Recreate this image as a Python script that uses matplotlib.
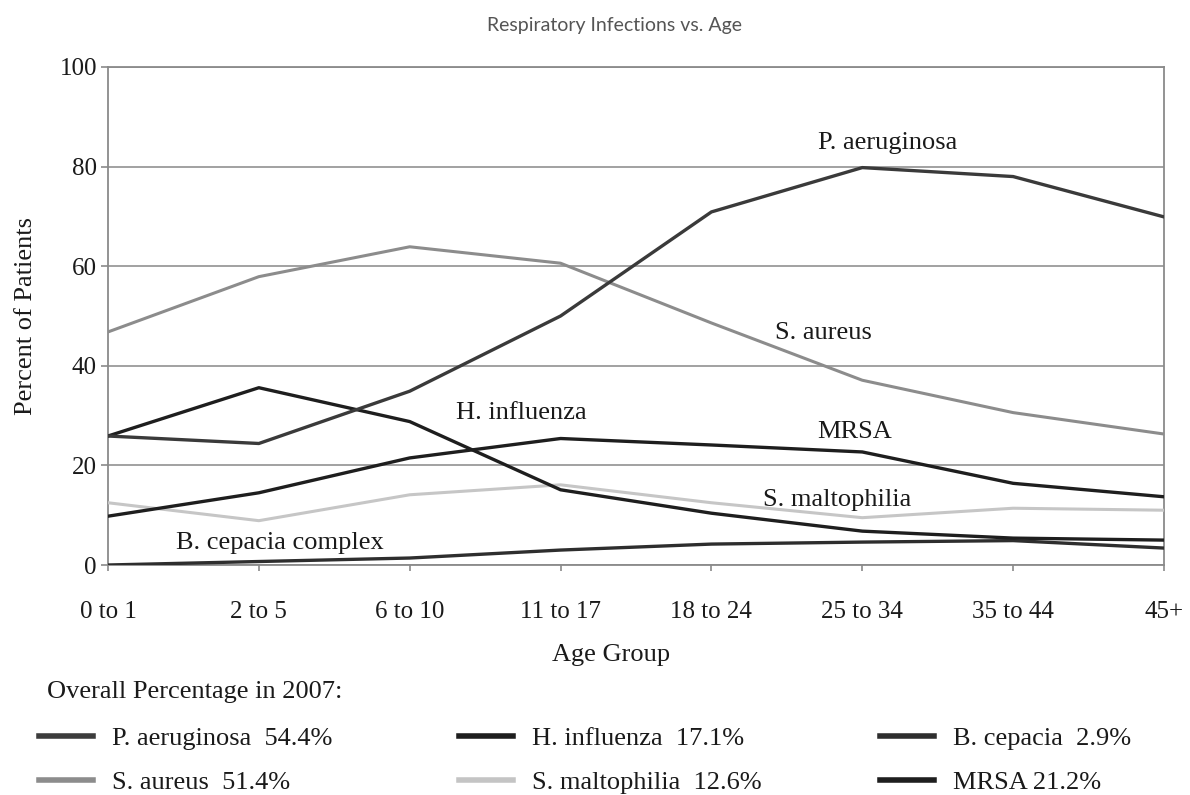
import matplotlib.pyplot as plt

# data
age_groups = ['0 to 1', '2 to 5', '6 to 10', '11 to 17', '18 to 24',
              '25 to 34', '35 to 44', '45+']
p_aeruginosa = [25.9, 24.4, 34.9, 50.0, 70.9, 79.8, 78.0, 69.9]
s_aureus = [46.8, 57.9, 63.9, 60.6, 48.6, 37.1, 30.6, 26.3]
h_influenza = [25.9, 35.6, 28.8, 15.1, 10.4, 6.8, 5.4, 5.0]
mrsa = [9.8, 14.5, 21.5, 25.4, 24.1, 22.7, 16.4, 13.7]
s_maltophilia = [12.5, 8.9, 14.1, 16.1, 12.5, 9.5, 11.4, 11.0]
b_cepacia = [0.0, 0.7, 1.4, 3.0, 4.2, 4.6, 4.9, 3.4]

overall_2007 = {'P. aeruginosa': 54.4, 'S. aureus': 51.4, 'H. influenza': 17.1,
                'S. maltophilia': 12.6, 'B. cepacia': 2.9, 'MRSA': 21.2}

SERIF = 'Liberation Serif'

fig = plt.figure(figsize=(11.9, 7.95), dpi=100)
ax = fig.add_axes([108 / 1190, 1 - 565 / 795, (1164 - 108) / 1190, (565 - 67) / 795])

x = range(len(age_groups))
ax.plot(x, s_maltophilia, color='#c6c6c6', lw=2.2, zorder=3)
ax.plot(x, s_aureus, color='#8c8c8c', lw=2.2, zorder=3)
ax.plot(x, b_cepacia, color='#2e2e2e', lw=2.4, zorder=4)
ax.plot(x, mrsa, color='#1e1e1e', lw=2.4, zorder=4)
ax.plot(x, h_influenza, color='#1e1e1e', lw=2.4, zorder=4)
ax.plot(x, p_aeruginosa, color='#3a3a3a', lw=2.4, zorder=4)

ax.set_xlim(0, len(age_groups) - 1)
ax.set_ylim(0, 100)
ax.set_yticks([0, 20, 40, 60, 80, 100])
ax.set_xticks(list(x))
ax.set_xticklabels(age_groups)
ax.yaxis.grid(True, color='#9a9a9a', lw=1.3)
ax.set_axisbelow(True)
for s in ax.spines.values():
    s.set_color('#8a8a8a')
    s.set_linewidth(1.3)
ax.tick_params(axis='x', length=4, width=1.2, color='#8a8a8a', pad=22,
               labelsize=18, labelcolor='#1a1a1a')
ax.tick_params(axis='y', length=5, width=1.2, color='#8a8a8a', pad=3,
               labelsize=18, labelcolor='#1a1a1a')
for lab in ax.get_xticklabels() + ax.get_yticklabels():
    lab.set_family(SERIF)

ax.set_ylabel('Percent of Patients', family=SERIF, fontsize=19, color='#1a1a1a', labelpad=16)
fig.text(611 / 1190, 1 - 655 / 795, 'Age Group', family=SERIF, fontsize=19,
         color='#1a1a1a', ha='center', va='center')
fig.text(614 / 1190, 1 - 25 / 795, 'Respiratory Infections vs. Age', family='Lato',
         fontsize=14, color='#555555', ha='center', va='center')

# series labels inside the plot
txt = dict(family=SERIF, fontsize=19, color='#1a1a1a', ha='center', va='center')
ax.text(5.17, 84.7, 'P. aeruginosa', **txt)
ax.text(4.74, 46.6, 'S. aureus', **txt)
ax.text(2.74, 30.5, 'H. influenza', **txt)
ax.text(4.95, 26.7, 'MRSA', **txt)
ax.text(4.83, 13.0, 'S. maltophilia', **txt)
ax.text(1.14, 4.4, 'B. cepacia complex', **txt)

# legend: three columns placed by hand
fig.text(47 / 1190, 1 - 692 / 795, 'Overall Percentage in 2007:', family=SERIF,
         fontsize=19, color='#1a1a1a', ha='left', va='center')
columns = [
    (39, [('P. aeruginosa', '#3c3c3c', 'P. aeruginosa  {}%'),
          ('S. aureus', '#8c8c8c', 'S. aureus  {}%')]),
    (459, [('H. influenza', '#1e1e1e', 'H. influenza  {}%'),
           ('S. maltophilia', '#c4c4c4', 'S. maltophilia  {}%')]),
    (880, [('B. cepacia', '#2e2e2e', 'B. cepacia  {}%'),
           ('MRSA', '#1e1e1e', 'MRSA {}%')]),
]
for xpix, entries in columns:
    handles = [plt.Line2D([], [], color=c, lw=4) for _, c, _ in entries]
    labels = [fmt.format(overall_2007[name]) for name, _, fmt in entries]
    leg = fig.legend(handles, labels, loc='upper left',
                     bbox_to_anchor=(xpix / 1190, 1 - 727 / 795),
                     frameon=False, borderpad=0, borderaxespad=0,
                     handlelength=2.05, handletextpad=0.7, labelspacing=0.75,
                     prop={'family': SERIF, 'size': 19})
    for t in leg.get_texts():
        t.set_color('#1a1a1a')

fig.savefig('out.png', dpi=100)
